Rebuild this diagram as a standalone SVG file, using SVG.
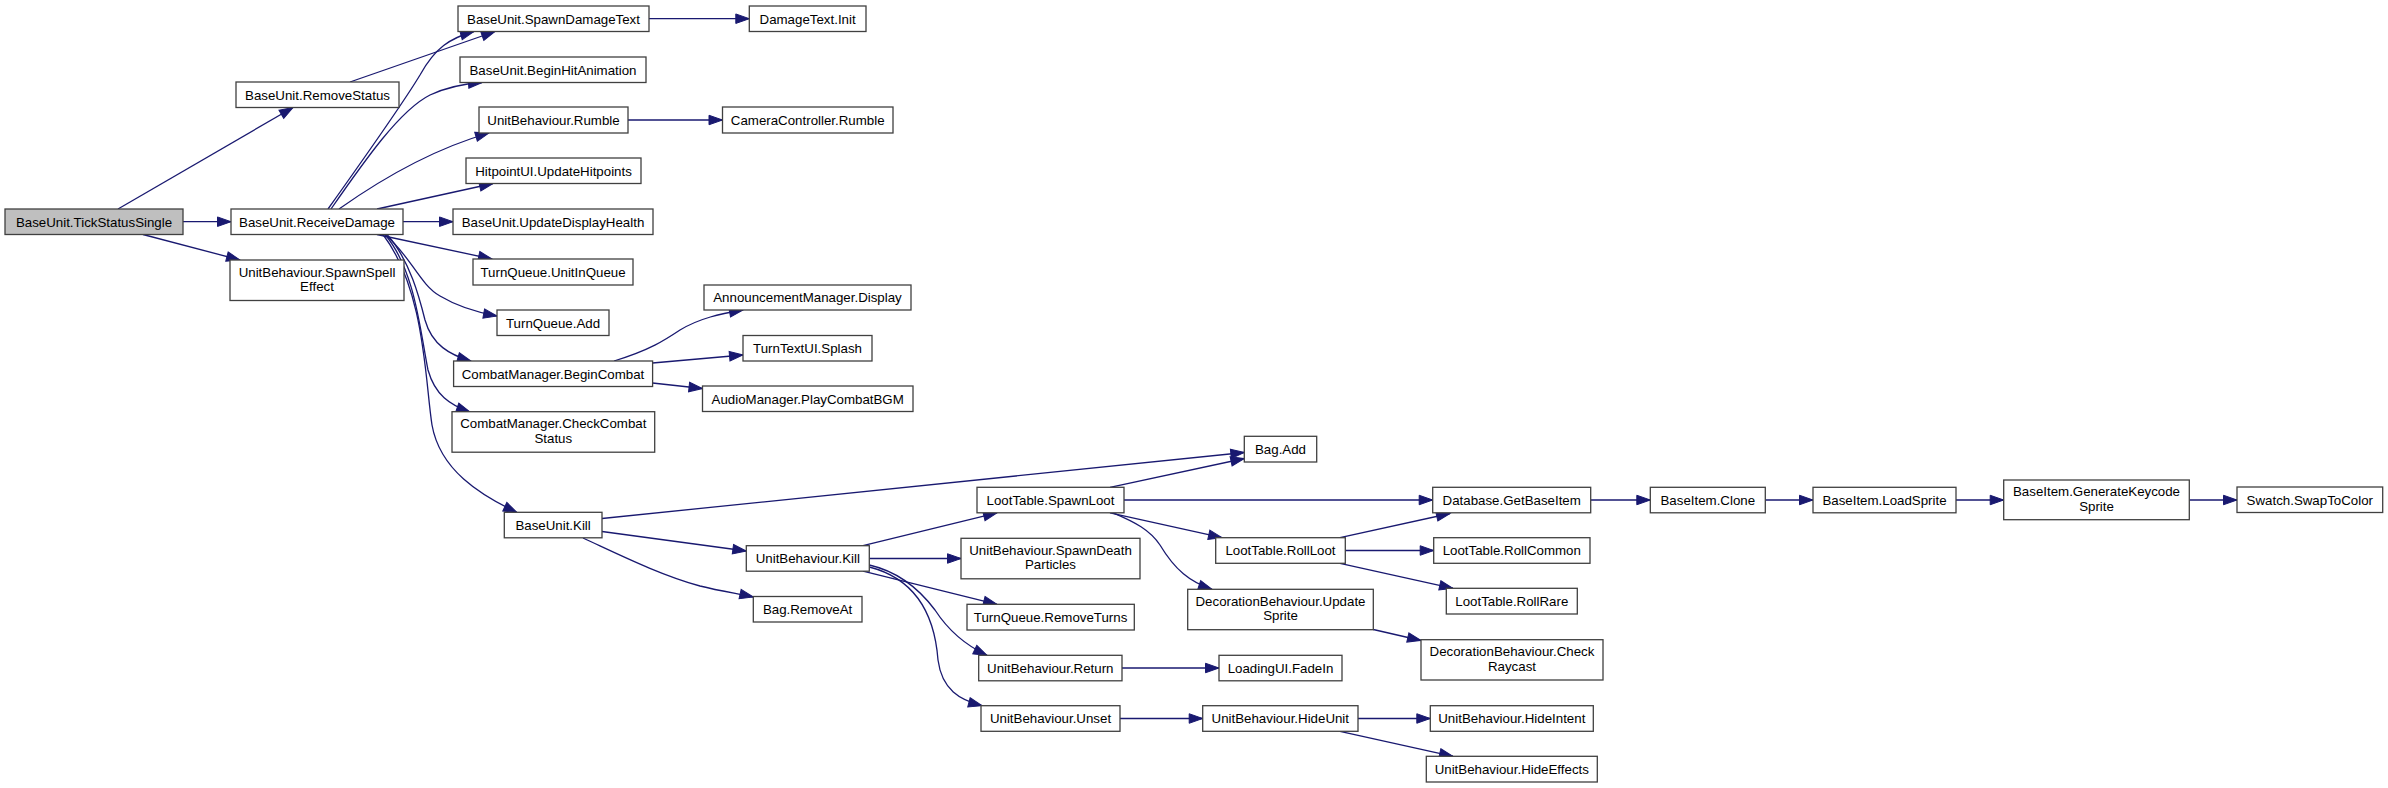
<svg xmlns="http://www.w3.org/2000/svg" width="2388" height="788" viewBox="0 0 2388 788">
<style>
.n rect{fill:#ffffff;stroke:#404040;stroke-width:1.3}
.n.root rect{fill:#bfbfbf}
.n text{font-family:"Liberation Sans",Arial,sans-serif;font-size:13.3px;fill:#000000;text-anchor:middle}
.e path{fill:none;stroke:#191970;stroke-width:1.3;marker-end:url(#a)}
</style>
<defs>
<marker id="a" markerUnits="userSpaceOnUse" markerWidth="16" markerHeight="12" refX="13.5" refY="4.75" orient="auto" overflow="visible">
<path d="M0,0 L13.5,4.75 L0,9.5 z" fill="#191970" stroke="#191970" stroke-width="1"/>
</marker>
</defs>
<rect x="0" y="0" width="2388" height="788" fill="#ffffff"/>
<g id="edges" class="e">
<path d="M118,209 L293,107.5"/>
<path d="M183,221.7 L231,221.7"/>
<path d="M143,234.5 L240,260"/>
<path d="M350,82 L495,31.5"/>
<path d="M328,209 C370,150 405,100 420,75 C435,48 450,38 474,31.5"/>
<path d="M331,209 C365,160 400,110 430,95 C445,88 460,84 482,82.5"/>
<path d="M339,209 C380,180 430,150 489,133"/>
<path d="M377,209 L493,183.5"/>
<path d="M403,221.7 L453,221.7"/>
<path d="M377,234.5 L492,259"/>
<path d="M385,234.5 C410,255 420,285 440,296 C455,305 475,312 497,316"/>
<path d="M387,234.5 C410,260 420,300 425,320 C432,345 450,355 471,361"/>
<path d="M385,234.5 C415,270 420,330 428,370 C435,395 450,405 470,412"/>
<path d="M383,234.5 C425,290 425,380 432,425 C440,470 480,495 517,512.5"/>
<path d="M649,18.7 L749.3,18.7"/>
<path d="M628,120 L722.5,120"/>
<path d="M614,361 C650,350 665,340 680,330 C700,318 720,314 743,310"/>
<path d="M652.5,363 L743,355"/>
<path d="M652.5,383 L702.5,388.5"/>
<path d="M602,518.5 L1244.3,452.5"/>
<path d="M602,531.5 L746.3,551"/>
<path d="M583,538 C620,555 660,575 700,586 C720,591 740,594 753.3,597"/>
<path d="M863,545.7 L997,512.8"/>
<path d="M869.3,558.5 L961,558.5"/>
<path d="M863,571.2 L997,604.3"/>
<path d="M869.3,565 C900,572 920,590 935,610 C948,630 965,645 987,655.3"/>
<path d="M869.3,567 C920,580 935,620 938,660 C942,690 960,700 982,705.7"/>
<path d="M1110,487.3 L1244.3,458.5"/>
<path d="M1124,500 L1432.7,500"/>
<path d="M1110,512.8 L1222,537.7"/>
<path d="M1113,512.8 C1135,522 1150,530 1160,545 C1175,570 1190,582 1212,589.3"/>
<path d="M1340,537.7 L1450,513.5"/>
<path d="M1345.3,550.5 L1433.7,550.5"/>
<path d="M1340,563.3 L1453,588.3"/>
<path d="M1373.3,629.5 L1421,640.5"/>
<path d="M1122,668 L1219,668"/>
<path d="M1120,718.5 L1202.7,718.5"/>
<path d="M1358,718.5 L1430.3,718.5"/>
<path d="M1340,731.3 L1453,756.3"/>
<path d="M1590.7,500 L1650.3,500"/>
<path d="M1765.3,500 L1813,500"/>
<path d="M1956,500 L2003.7,500"/>
<path d="M2189.3,500 L2237,500"/>
</g>
<g id="n1" class="n root"><rect x="5" y="209" width="178" height="25.5"/><text x="94" y="226.5">BaseUnit.TickStatusSingle</text></g>
<g id="n2" class="n"><rect x="236" y="82" width="163" height="25.5"/><text x="317.5" y="99.5">BaseUnit.RemoveStatus</text></g>
<g id="n3" class="n"><rect x="231" y="209" width="172" height="25.5"/><text x="317" y="226.5">BaseUnit.ReceiveDamage</text></g>
<g id="n4" class="n"><rect x="230" y="260" width="174" height="40.5"/><text x="317" y="276.5">UnitBehaviour.SpawnSpell</text><text x="317" y="291">Effect</text></g>
<g id="n5" class="n"><rect x="458" y="6" width="191" height="25.5"/><text x="553.5" y="23.5">BaseUnit.SpawnDamageText</text></g>
<g id="n6" class="n"><rect x="460" y="57" width="186" height="25.5"/><text x="553" y="74.5">BaseUnit.BeginHitAnimation</text></g>
<g id="n7" class="n"><rect x="479" y="107" width="149" height="26"/><text x="553.5" y="124.5">UnitBehaviour.Rumble</text></g>
<g id="n8" class="n"><rect x="466" y="158" width="175" height="25.5"/><text x="553.5" y="175.5">HitpointUI.UpdateHitpoints</text></g>
<g id="n9" class="n"><rect x="453" y="209" width="200" height="25.5"/><text x="553" y="226.5">BaseUnit.UpdateDisplayHealth</text></g>
<g id="n10" class="n"><rect x="473" y="259" width="160" height="26"/><text x="553" y="276.5">TurnQueue.UnitInQueue</text></g>
<g id="n11" class="n"><rect x="497" y="310" width="112" height="25.5"/><text x="553" y="327.5">TurnQueue.Add</text></g>
<g id="n12" class="n"><rect x="453.6" y="361" width="199" height="25.5"/><text x="553" y="378.5">CombatManager.BeginCombat</text></g>
<g id="n13" class="n"><rect x="452" y="411.7" width="202.7" height="40.5"/><text x="553.3" y="428.2">CombatManager.CheckCombat</text><text x="553.3" y="442.7">Status</text></g>
<g id="n14" class="n"><rect x="504.3" y="512.3" width="97.7" height="25.5"/><text x="553.1" y="529.8">BaseUnit.Kill</text></g>
<g id="n15" class="n"><rect x="749.3" y="6" width="116.7" height="25.5"/><text x="807.6" y="23.5">DamageText.Init</text></g>
<g id="n16" class="n"><rect x="722.5" y="107" width="170.5" height="26"/><text x="807.7" y="124.5">CameraController.Rumble</text></g>
<g id="n17" class="n"><rect x="704" y="285" width="207" height="25"/><text x="807.5" y="302.2">AnnouncementManager.Display</text></g>
<g id="n18" class="n"><rect x="743" y="335.5" width="129" height="25.5"/><text x="807.5" y="353">TurnTextUI.Splash</text></g>
<g id="n19" class="n"><rect x="702.5" y="386" width="210.5" height="25.5"/><text x="807.7" y="403.5">AudioManager.PlayCombatBGM</text></g>
<g id="n20" class="n"><rect x="746.3" y="545.7" width="123" height="25.5"/><text x="807.8" y="563.2">UnitBehaviour.Kill</text></g>
<g id="n21" class="n"><rect x="753.3" y="596.5" width="108.7" height="25.5"/><text x="807.6" y="614">Bag.RemoveAt</text></g>
<g id="n22" class="n"><rect x="1244.3" y="436.3" width="72.4" height="25.7"/><text x="1280.5" y="453.8">Bag.Add</text></g>
<g id="n23" class="n"><rect x="977" y="487.3" width="147" height="25.5"/><text x="1050.5" y="504.8">LootTable.SpawnLoot</text></g>
<g id="n24" class="n"><rect x="961" y="538.3" width="179" height="40.5"/><text x="1050.5" y="554.8">UnitBehaviour.SpawnDeath</text><text x="1050.5" y="569.3">Particles</text></g>
<g id="n25" class="n"><rect x="967" y="604.3" width="167.3" height="25.7"/><text x="1050.6" y="621.8">TurnQueue.RemoveTurns</text></g>
<g id="n26" class="n"><rect x="978.7" y="655.3" width="143.3" height="25.5"/><text x="1050.3" y="672.8">UnitBehaviour.Return</text></g>
<g id="n27" class="n"><rect x="981" y="705.7" width="139" height="25.6"/><text x="1050.5" y="723.2">UnitBehaviour.Unset</text></g>
<g id="n28" class="n"><rect x="1215.7" y="537.7" width="129.6" height="25.6"/><text x="1280.5" y="555.2">LootTable.RollLoot</text></g>
<g id="n29" class="n"><rect x="1187.7" y="589.3" width="185.6" height="40.4"/><text x="1280.5" y="605.8">DecorationBehaviour.Update</text><text x="1280.5" y="620.3">Sprite</text></g>
<g id="n30" class="n"><rect x="1219" y="655.3" width="123" height="25.5"/><text x="1280.5" y="672.8">LoadingUI.FadeIn</text></g>
<g id="n31" class="n"><rect x="1202.7" y="705.7" width="155.3" height="25.6"/><text x="1280.3" y="723.2">UnitBehaviour.HideUnit</text></g>
<g id="n32" class="n"><rect x="1432.7" y="487.3" width="158" height="25.5"/><text x="1511.7" y="504.8">Database.GetBaseItem</text></g>
<g id="n33" class="n"><rect x="1433.7" y="537.7" width="156.3" height="25.6"/><text x="1511.8" y="555.2">LootTable.RollCommon</text></g>
<g id="n34" class="n"><rect x="1446.3" y="588.3" width="131" height="25.7"/><text x="1511.8" y="605.8">LootTable.RollRare</text></g>
<g id="n35" class="n"><rect x="1421" y="639.7" width="182" height="40.3"/><text x="1512" y="656.2">DecorationBehaviour.Check</text><text x="1512" y="670.7">Raycast</text></g>
<g id="n36" class="n"><rect x="1430.3" y="705.7" width="163" height="25.6"/><text x="1511.8" y="723.2">UnitBehaviour.HideIntent</text></g>
<g id="n37" class="n"><rect x="1426.3" y="756.3" width="171" height="25.7"/><text x="1511.8" y="773.8">UnitBehaviour.HideEffects</text></g>
<g id="n38" class="n"><rect x="1650.3" y="487.3" width="115" height="25.5"/><text x="1707.8" y="504.8">BaseItem.Clone</text></g>
<g id="n39" class="n"><rect x="1813" y="487.3" width="143" height="25.5"/><text x="1884.5" y="504.8">BaseItem.LoadSprite</text></g>
<g id="n40" class="n"><rect x="2003.7" y="480" width="185.6" height="39.7"/><text x="2096.5" y="496.2">BaseItem.GenerateKeycode</text><text x="2096.5" y="510.7">Sprite</text></g>
<g id="n41" class="n"><rect x="2237" y="487" width="145.7" height="25.5"/><text x="2309.8" y="504.5">Swatch.SwapToColor</text></g>
</svg>
